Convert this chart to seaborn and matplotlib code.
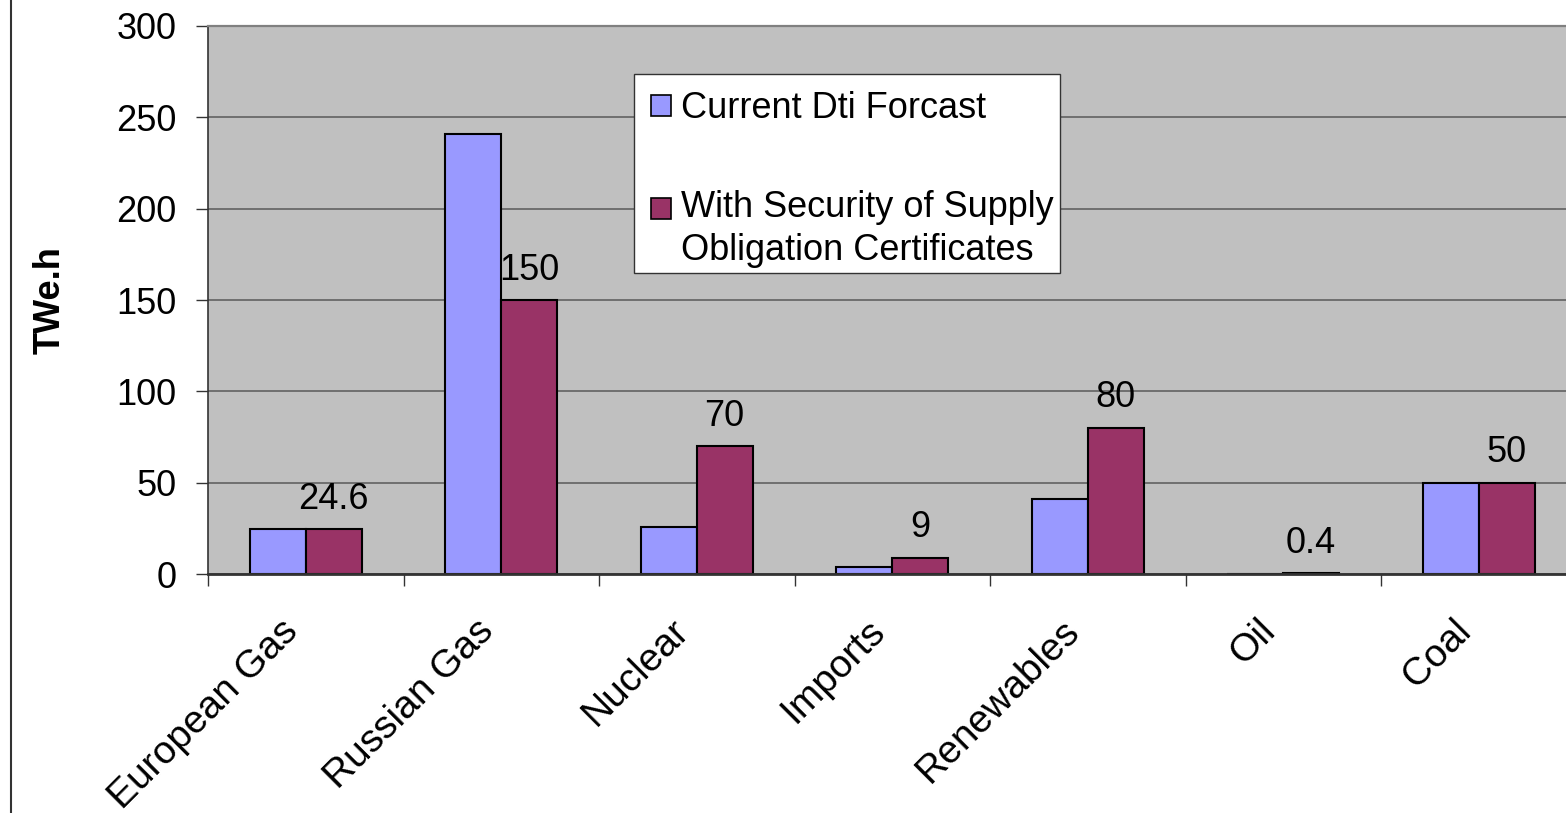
import matplotlib
matplotlib.use("Agg")
import matplotlib.pyplot as plt
from matplotlib.lines import Line2D
from matplotlib.patches import Rectangle
from matplotlib.ticker import FixedLocator
from matplotlib.transforms import ScaledTranslation
import pandas as pd
import seaborn as sns

# Electricity supply by source (TWe.h)
categories = ["European Gas", "Russian Gas", "Nuclear", "Imports",
              "Renewables", "Oil", "Coal"]
dti_forecast = [24.6, 241, 26, 4, 41, 0, 50]
with_soso = [24.6, 150, 70, 9, 80, 0.4, 50]
series_names = ["Current Dti Forcast",
                "With Security of Supply\nObligation Certificates"]
y_ticks = [0, 50, 100, 150, 200, 250, 300]
colors = ["#9999FF", "#993366"]

W, H, DPI = 1566, 813, 100
FS = 26

sns.set_theme(style="white")
plt.rcParams["font.family"] = ["Liberation Sans", "DejaVu Sans"]
plt.rcParams.update({"text.color": "black", "axes.labelcolor": "black",
                     "xtick.color": "black", "ytick.color": "black"})

fig = plt.figure(figsize=(W / DPI, H / DPI), dpi=DPI)
ax = fig.add_axes([208 / W, 1 - 574 / H, 1368.5 / W, 548 / H])
ax.set_facecolor("#C0C0C0")

df = pd.DataFrame({
    "Source": categories * 2,
    "Series": [series_names[0]] * len(categories) + [series_names[1]] * len(categories),
    "TWe.h": dti_forecast + with_soso,
})

sns.barplot(data=df, x="Source", y="TWe.h", hue="Series",
            order=categories, hue_order=series_names, palette=colors,
            saturation=1, width=4 / 7, gap=0, errorbar=None,
            edgecolor="black", linewidth=1.5, ax=ax)

# value labels on the second series
ax.bar_label(ax.containers[1], labels=[f"{v:g}" for v in with_soso],
             padding=9, fontsize=FS, color="black")

# axes styling
ax.set_xlim(-0.5, 6.5)
ax.set_ylim(0, 300)
ax.set_yticks(y_ticks)
ax.yaxis.grid(True, color="#5a5a5a", linewidth=1.1)
ax.xaxis.grid(False)
ax.set_axisbelow(True)

ax.spines["right"].set_visible(False)
ax.spines["top"].set_color("#808080")
ax.spines["top"].set_linewidth(1.6)
ax.spines["left"].set_color("#333333")
ax.spines["left"].set_linewidth(1.2)
ax.spines["bottom"].set_color("#333333")
ax.spines["bottom"].set_linewidth(2)

ax.tick_params(axis="y", which="major", direction="out", length=8.6, width=1,
               color="#333333", pad=14, labelsize=FS, left=True)
ax.tick_params(axis="x", which="major", length=0, pad=28, labelsize=28,
               bottom=True)
ax.xaxis.set_minor_locator(FixedLocator([i - 0.5 for i in range(len(categories) + 1)]))
ax.tick_params(axis="x", which="minor", direction="out", length=8.6, width=1,
               color="#333333", bottom=True)
shift = ScaledTranslation(-26 / DPI, 0, fig.dpi_scale_trans)
for lbl in ax.get_xticklabels():
    lbl.set_rotation(45)
    lbl.set_ha("right")
    lbl.set_va("top")
    lbl.set_rotation_mode("anchor")
    lbl.set_transform(lbl.get_transform() + shift)

ax.set_xlabel("")
ax.set_ylabel("TWe.h", fontsize=FS, fontweight="bold")
ax.yaxis.set_label_coords((68 - 208) / 1368.5, 0.5)

# legend: entries placed by matplotlib, box drawn separately
handles, labels = ax.get_legend_handles_labels()
leg = ax.legend(handles, labels, loc="upper left",
                bbox_to_anchor=(634 / W, 1 - 74 / H), bbox_transform=fig.transFigure,
                fontsize=FS, frameon=False, borderaxespad=0,
                borderpad=0.48, handlelength=0.55, handleheight=0.55,
                handletextpad=0.28, labelspacing=1.77)
leg.set_zorder(6)
for t in leg.get_texts():
    t.set_linespacing(1.3)
for h in leg.legend_handles:
    h.set_edgecolor("black")
    h.set_linewidth(1.2)
# keep the second swatch level with the first line of its label
leg.legend_handles[1].set_y(leg.legend_handles[1].get_y() + 15.5)
legend_box = Rectangle((634 / W, 1 - 273 / H), (1060 - 634) / W, (273 - 74) / H,
                       transform=fig.transFigure, facecolor="white",
                       edgecolor="#333333", linewidth=1, zorder=5)
ax.add_artist(legend_box)

# outer chart border on the left
fig.add_artist(Line2D([10.5 / W, 10.5 / W], [0, 1], transform=fig.transFigure,
                      color="#333333", linewidth=1.5))

fig.savefig("out.png", dpi=DPI)
